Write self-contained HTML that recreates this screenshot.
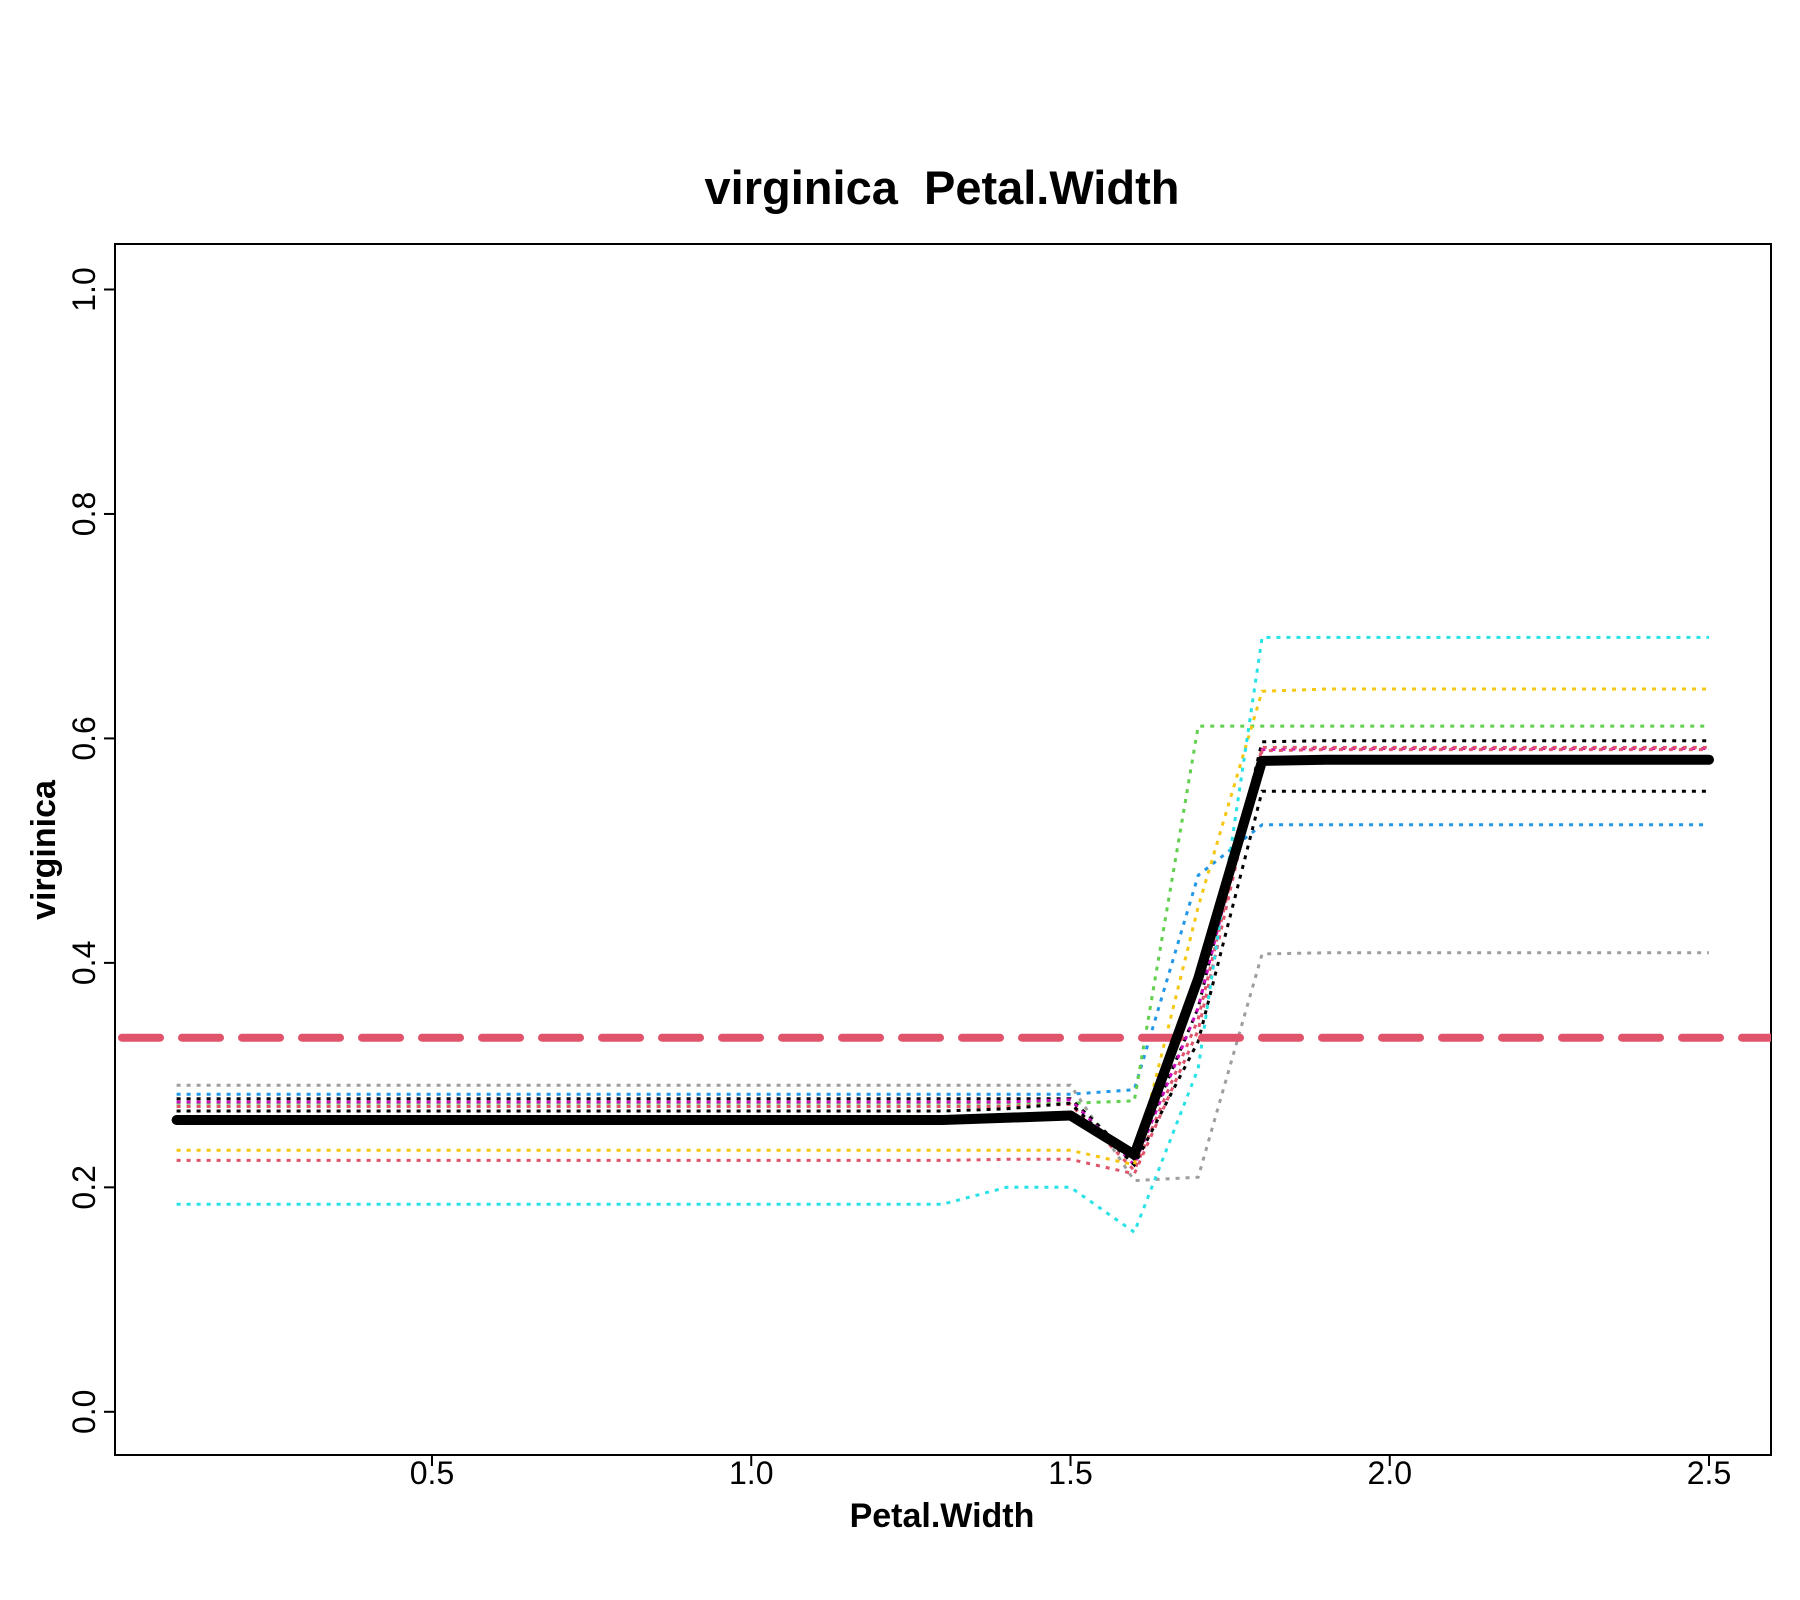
<!DOCTYPE html>
<html><head><meta charset="utf-8"><style>
html,body{margin:0;padding:0;background:#fff;}
svg{display:block;font-family:"Liberation Sans",Arial,sans-serif;}
</style></head><body>
<svg id="chart" width="1800" height="1600" xmlns="http://www.w3.org/2000/svg">
<defs><clipPath id="plotclip"><rect x="115" y="244" width="1656" height="1211"/></clipPath></defs>
<rect width="1800" height="1600" fill="#fff"/>
<text x="942" y="204" text-anchor="middle" font-size="47" font-weight="bold" style="white-space:pre" xml:space="preserve">virginica  Petal.Width</text>
<rect x="115" y="244" width="1656" height="1211" fill="none" stroke="#000" stroke-width="2"/>
<g id="xaxis"></g>
<g id="yaxis"></g>
<g id="series" clip-path="url(#plotclip)"></g>
<text x="942" y="1527" text-anchor="middle" font-size="34" font-weight="bold">Petal.Width</text>
<text transform="translate(55,850) rotate(-90)" text-anchor="middle" font-size="34" font-weight="bold">virginica</text>
</svg>
<script>
const xVals=[0.1,1.3,1.4,1.5,1.6,1.7,1.8,1.9,2.5];
const xTicks=[0.5,1.0,1.5,2.0,2.5];
const xTickLabels=["0.5","1.0","1.5","2.0","2.5"];
const yTicks=[0,0.2,0.4,0.6,0.8,1.0];
const yTickLabels=["0.0","0.2","0.4","0.6","0.8","1.0"];
const baseline=1/3;
const sCyan=[0.185,0.185,0.2,0.2,0.16,0.306,0.69,0.69,0.69];
const sGold=[0.233,0.233,0.233,0.233,0.22,0.45,0.642,0.644,0.644];
const sGreen=[0.275,0.275,0.275,0.275,0.277,0.611,0.611,0.611,0.611];
const sBlue=[0.283,0.283,0.283,0.283,0.287,0.478,0.523,0.523,0.523];
const sGrey=[0.291,0.291,0.291,0.291,0.206,0.209,0.408,0.409,0.409];
const sRed=[0.224,0.224,0.225,0.225,0.212,0.34,0.589,0.59,0.59];
const sBlack1=[0.268,0.268,0.27,0.275,0.22,0.33,0.553,0.553,0.553];
const sBlack2=[0.279,0.279,0.279,0.279,0.225,0.36,0.597,0.598,0.598];
const sMagenta=[0.276,0.276,0.276,0.278,0.22,0.36,0.59,0.591,0.591];
const sRed2=[0.272,0.272,0.272,0.274,0.215,0.35,0.592,0.592,0.592];
const sMean=[0.26,0.26,0.262,0.264,0.229,0.386,0.58,0.581,0.581];

const NS="http://www.w3.org/2000/svg";
function sx(v){return 432+(v-0.5)*638.5;}
function sy(v){return 1411.8-v*1122.3;}
function mk(tag,attrs,parent){const e=document.createElementNS(NS,tag);for(const k in attrs)e.setAttribute(k,attrs[k]);parent.appendChild(e);return e;}
const xa=document.getElementById('xaxis'),ya=document.getElementById('yaxis'),sg=document.getElementById('series');
xTicks.forEach((t,i)=>{
  const l=mk('line',{x1:sx(t),x2:sx(t),y1:1455,y2:1466,stroke:'#000','stroke-width':2},xa);
  
  
  const tx=mk('text',{x:sx(t),y:1484,'text-anchor':'middle','font-size':32},xa);
  tx.textContent=xTickLabels[i];
  
  
});
yTicks.forEach((t,i)=>{
  const l=mk('line',{x1:104,x2:115,y1:sy(t),y2:sy(t),stroke:'#000','stroke-width':2},ya);
  
  
  const tx=mk('text',{transform:`translate(95,${sy(t)}) rotate(-90)`,'text-anchor':'middle','font-size':32},ya);
  tx.textContent=yTickLabels[i];
  
  
});
const series=[
 [sGrey,'#9E9E9E','grey'],[sBlue,'#2297E6','blue'],[sGreen,'#61D04F','green'],
 [sBlack2,'#000','black-2'],[sMagenta,'#CD0BBC','magenta'],[sRed2,'#DF536B','red-2'],
 [sBlack1,'#000','black-1'],[sGold,'#F5C710','gold'],[sRed,'#DF536B','red'],[sCyan,'#28E2E5','cyan']
];
function pts(arr){return arr.map((v,i)=>sx(xVals[i]).toFixed(1)+','+sy(v).toFixed(1)).join(' ');}
series.forEach(s=>{
  const p=mk('polyline',{points:pts(s[0]),fill:'none',stroke:s[1],'stroke-width':3,'stroke-dasharray':'4,6'},sg);
  
  
});
const bl=mk('line',{x1:122,x2:1771,y1:sy(baseline),y2:sy(baseline),stroke:'#DF536B','stroke-width':8,'stroke-dasharray':'38,22','stroke-linecap':'round'},sg);


const m=mk('polyline',{points:pts(sMean),fill:'none',stroke:'#000','stroke-width':10,'stroke-linejoin':'round','stroke-linecap':'round'},sg);


</script>
</body></html>
